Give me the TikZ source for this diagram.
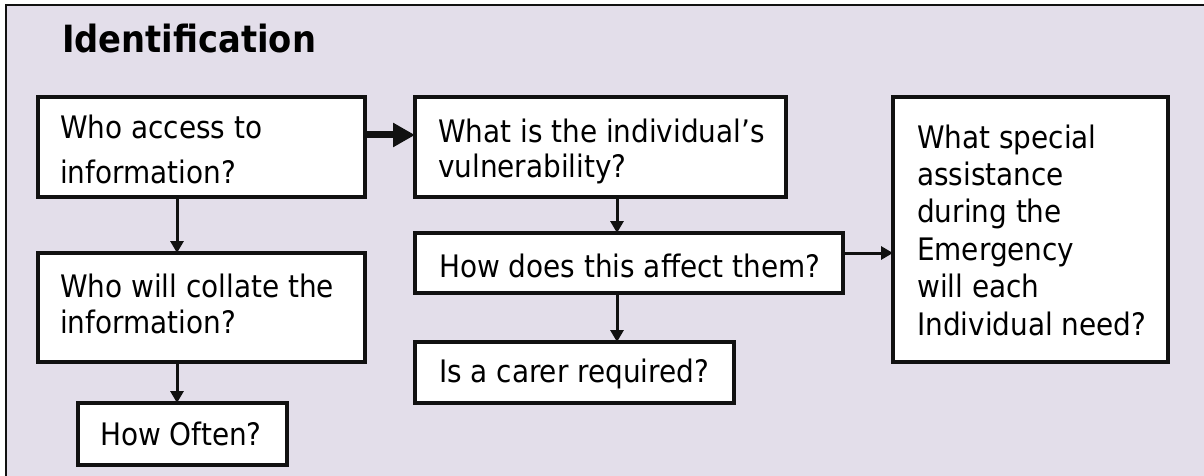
\documentclass[tikz,border=0pt]{standalone}
\usepackage{fontspec}
\setmainfont{DejaVu Sans Condensed}
\usetikzlibrary{arrows.meta,calc}
\definecolor{panel}{HTML}{E3DEEA}
\definecolor{ink}{HTML}{111111}
\begin{document}
\begin{tikzpicture}[x=1pt,y=-1pt,
  box/.style={draw=ink, line width=3.5pt, fill=white, anchor=north west,
    inner sep=0pt, outer sep=0pt},
  % base anchor of a multi-line node sits on its last line
  txt/.style={anchor=base west, inner sep=0pt, align=left, text=black},
  link/.style={draw=ink, line width=3pt, -{Triangle[length=12pt,width=13pt]}},
  biglink/.style={draw=ink, line width=7pt, -{Triangle[length=22pt,width=23pt]}}
]
\useasboundingbox (0,0) rectangle (1204,476);

% shaded panel, cut off at the right and bottom
\begin{scope}
  \clip (0,0) rectangle (1204,476);
  \draw[draw=ink, line width=2.5pt, fill=panel] (6,5) rectangle (1240,520);
\end{scope}

\node[txt, font=\bfseries\fontsize{37.5}{37.5}\selectfont] (title) at (62,53) {Identification};

% boxes
\node[box, minimum width=327pt, minimum height=100pt] (a) at (38,97) {};
\node[box, minimum width=371pt, minimum height=100pt] (b) at (415,97) {};
\node[box, minimum width=428pt, minimum height=60pt]  (c) at (415,233) {};
\node[box, minimum width=275pt, minimum height=265pt] (d) at (893,97) {};
\node[box, minimum width=319pt, minimum height=61pt]  (e) at (415,342) {};
\node[box, minimum width=327pt, minimum height=109pt] (f) at (38,253) {};
\node[box, minimum width=209pt, minimum height=62pt]  (g) at (78,403) {};

% box texts
\node[txt, font=\fontsize{31}{45}\selectfont] (ta) at (60,183) {Who access to\\information?};
\node[txt, font=\fontsize{31}{35}\selectfont] (tb) at (438,177) {What is the individual’s\\vulnerability?};
\node[txt, font=\fontsize{31}{36}\selectfont] (tc) at (439,277) {How does this affect them?};
\node[txt, font=\fontsize{31}{37.4}\selectfont] (td) at (917,335)
  {What special\\assistance\\during the\\Emergency\\will each\\Individual need?};
\node[txt, font=\fontsize{31}{36}\selectfont] (te) at (439,382) {Is a carer required?};
\node[txt, font=\fontsize{31}{36}\selectfont] (tf) at (60,333) {Who will collate the\\information?};
\node[txt, font=\fontsize{31}{36}\selectfont] (tg) at (100,445) {How Often?};

% connectors
\draw[biglink] (a.east |- 0,135) -- (b.west |- 0,135);
\draw[link] (a.south -| 177,0) -- (f.north -| 177,0);
\draw[link] (f.south -| 177,0) -- (g.north -| 177,0);
\draw[link] (b.south -| 617,0) -- (c.north -| 617,0);
\draw[link] (c.south -| 617,0) -- (e.north -| 617,0);
\draw[link] (c.east |- 0,253) -- (d.west |- 0,253);
\end{tikzpicture}
\end{document}
